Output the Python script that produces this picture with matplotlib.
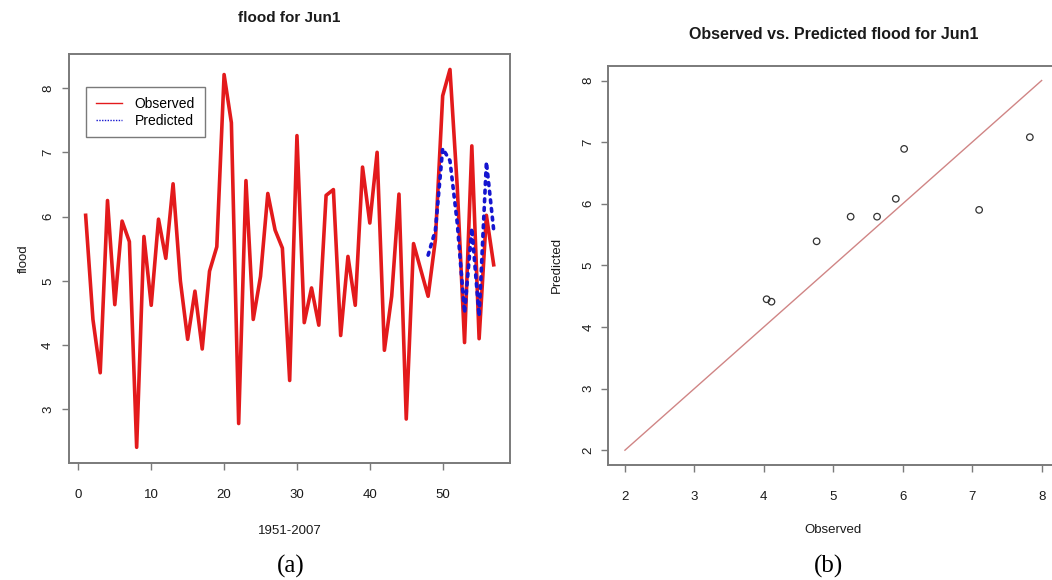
import matplotlib.pyplot as plt
from matplotlib.lines import Line2D

# (a) observed flood series, 1951-2007 (index 1..57)
years = list(range(1, 58))
observed = [6.02, 4.40, 3.57, 6.25, 4.63, 5.93, 5.61, 2.41, 5.69, 4.62,
            5.96, 5.35, 6.51, 5.00, 4.09, 4.84, 3.94, 5.15, 5.53, 8.21,
            7.46, 2.78, 6.56, 4.40, 5.07, 6.36, 5.79, 5.51, 3.45, 7.26,
            4.35, 4.89, 4.31, 6.33, 6.42, 4.15, 5.38, 4.62, 6.77, 5.90,
            7.00, 3.92, 4.76, 6.35, 2.85, 5.58, 5.17, 4.76, 5.64, 7.88,
            8.29, 6.46, 4.04, 7.10, 4.10, 6.02, 5.25]

# predicted series for the test years
pred_years = list(range(48, 58))
predicted = [5.40, 5.79, 7.06, 6.87, 5.90, 4.50, 5.82, 4.45, 6.85, 5.79]

# (b) observed vs predicted scatter
obs_test = [4.04, 4.11, 4.76, 5.25, 5.63, 5.90, 6.02, 7.10, 7.83]
pred_test = [4.45, 4.41, 5.39, 5.79, 5.79, 6.08, 6.89, 5.90, 7.08]

plt.rcParams['font.family'] = ['Liberation Sans', 'DejaVu Sans']

fig = plt.figure(figsize=(10.52, 5.8), dpi=100)
frame_col = '#7a7a7a'
text_col = '#1a1a1a'


def r_style(ax, ypad):
    for s in ax.spines.values():
        s.set_color(frame_col)
        s.set_linewidth(1.4)
    ax.tick_params(direction='out', length=5, width=1, color=frame_col,
                   labelsize=9.5, labelcolor=text_col)
    ax.tick_params(axis='x', pad=14)
    ax.tick_params(axis='y', pad=ypad)
    for lab in ax.get_yticklabels():
        lab.set_rotation(90)
        lab.set_va('center')


# ---- left panel ----
ax1 = fig.add_axes([0.0659, 0.2022, 0.4189, 0.7047])
ax1.plot(years, observed, color='#e31a1c', linewidth=2.6)
ax1.plot(pred_years, predicted, color='#1515d0', linewidth=2.6,
         linestyle=(0, (0.8, 1.6)), dash_capstyle='round')
ax1.set_xlim(-1.24, 59.24)
ax1.set_ylim(2.17, 8.53)
ax1.set_xticks([0, 10, 20, 30, 40, 50])
ax1.set_yticks([3, 4, 5, 6, 7, 8])
r_style(ax1, 6)
ax1.set_title('flood for Jun1', fontsize=11, fontweight='bold',
              color=text_col, pad=23)
ax1.set_xlabel('1951-2007', fontsize=9.5, color=text_col, labelpad=17)
ax1.set_ylabel('flood', fontsize=9.5, color=text_col, labelpad=9)
handles = [Line2D([], [], color='#e31a1c', linewidth=1),
           Line2D([], [], color='#1515d0', linewidth=1, linestyle=(0, (1, 1)))]
leg = ax1.legend(handles, ['Observed', 'Predicted'], loc='upper left',
                 bbox_to_anchor=(0.038, 0.919), borderaxespad=0, fontsize=10,
                 fancybox=False, framealpha=1, handlelength=1.9,
                 borderpad=0.7, labelspacing=0.2, handletextpad=0.9)
leg.get_frame().set_edgecolor(frame_col)
leg.get_frame().set_linewidth(1)

# ---- right panel ----
ax2 = fig.add_axes([0.5782, 0.1983, 0.4278, 0.6884])
ax2.plot([2, 8], [2, 8], color='#d08585', linewidth=1)
ax2.scatter(obs_test, pred_test, s=22, facecolors='none',
            edgecolors='#333333', linewidths=0.9, zorder=3)
ax2.set_xlim(1.76, 8.24)
ax2.set_ylim(1.76, 8.24)
ax2.set_xticks(range(2, 9))
ax2.set_yticks(range(2, 9))
r_style(ax2, 5)
ax2.set_title('Observed vs. Predicted flood for Jun1', fontsize=11.5,
              fontweight='bold', color=text_col, pad=19)
ax2.set_xlabel('Observed', fontsize=9.5, color=text_col, labelpad=15)
ax2.set_ylabel('Predicted', fontsize=9.5, color=text_col, labelpad=14)

# panel captions
fig.text(0.2766, 0.012, '(a)', fontsize=18, family='Liberation Serif',
         ha='center')
fig.text(0.7871, 0.012, '(b)', fontsize=18, family='Liberation Serif',
         ha='center')

fig.savefig('out.png', dpi=100)
